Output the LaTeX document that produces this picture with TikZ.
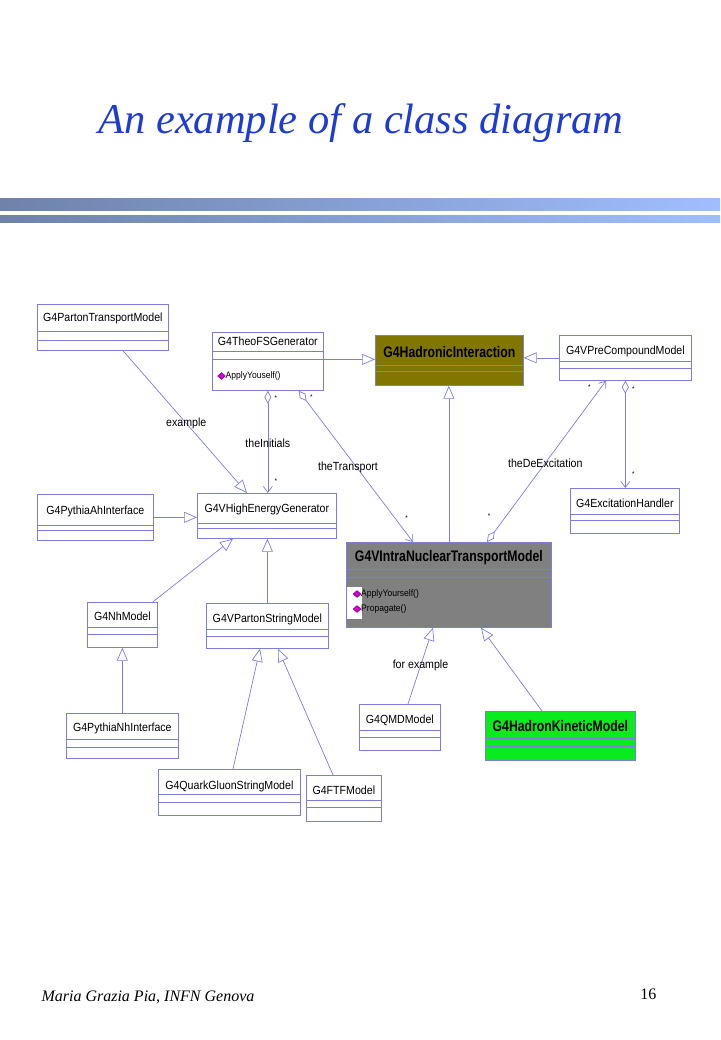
\documentclass[tikz,border=0pt]{standalone}
\usepackage{fontspec}
\setmainfont{Liberation Serif}
\newfontfamily\classfont[FakeStretch=0.9]{Liberation Sans}
\newfontfamily\boldclassfont[FakeStretch=0.8]{Liberation Sans}
\usepackage{tikz}
\usetikzlibrary{positioning,arrows.meta,shapes.geometric}

\definecolor{umlline}{RGB}{125,125,220}
\definecolor{umlolive}{RGB}{128,118,0}
\definecolor{umlgray}{RGB}{128,128,128}
\definecolor{umlgreen}{RGB}{10,235,30}
\definecolor{methodpink}{RGB}{210,0,210}
\definecolor{methodedge}{RGB}{110,0,110}
\definecolor{titleblue}{RGB}{30,60,210}
\definecolor{barleft}{RGB}{110,130,170}
\definecolor{barright}{RGB}{160,190,255}

\tikzset{seps/.code 2 args={\def\sepa{#1pt}\def\sepb{#2pt}}}

\begin{document}
\begin{tikzpicture}[x=1pt,y=-1pt]

\tikzstyle{umlclass} = [draw=umlline, line width=0.7pt, fill=white, anchor=north west, inner sep=0pt, font=\classfont\fontsize{11.8}{14}\selectfont, seps={26}{34},
  path picture={\draw[umlline, line width=0.7pt] ([yshift=-\sepa]path picture bounding box.north west) -- ([yshift=-\sepa]path picture bounding box.north east)
    ([yshift=-\sepb]path picture bounding box.north west) -- ([yshift=-\sepb]path picture bounding box.north east);}]
\tikzstyle{boldclass} = [umlclass, font=\boldclassfont\bfseries\fontsize{15.3}{17}\selectfont]
\tikzstyle{inherit} = [draw=umlline, line width=0.7pt, -{Triangle[open, length=13pt, width=11pt]}]
\tikzstyle{assoc} = [draw=umlline, line width=0.7pt, {Diamond[open, length=13pt, width=7pt]}-{Straight Barb[length=6pt, width=9pt]}]
\tikzstyle{lbl} = [font=\classfont\fontsize{11.8}{14}\selectfont, inner sep=0pt]
\tikzstyle{mult} = [font=\classfont\fontsize{7}{8}\selectfont, inner sep=0pt]
\tikzstyle{method} = [font=\classfont\fontsize{9.5}{11}\selectfont, inner sep=0pt, anchor=west]
\tikzstyle{methodicon} = [diamond, fill=methodpink, draw=methodedge, line width=0.4pt, inner sep=0pt, minimum width=8pt, minimum height=7pt]

\useasboundingbox (0,0) rectangle (720,1040);

% title and bars
\node[font=\itshape\fontsize{42.5}{48}\selectfont, text=titleblue, anchor=base] (title) at (361,134) {An example of a class diagram};
\shade[left color=barleft, right color=barright] (0,199) rectangle (720,211);
\shade[left color=barleft, right color=barright] (0,216) rectangle (720,223);

% classes, top row
\node[umlclass, minimum width=131pt, text height=17.5pt, text depth=28.5pt, seps={26.5}{36}] (ptm) at (37,304) {G4PartonTransportModel};
\node[umlclass, minimum width=111pt, text height=13.5pt, text depth=44.5pt, seps={19}{27}] (theo) at (212,332) {G4TheoFSGenerator};
\node[boldclass, fill=umlolive, minimum width=148pt, text height=22pt, text depth=28pt, seps={30}{36}] (hadr) at (375,335) {G4HadronicInteraction};
\node[umlclass, minimum width=132pt, text height=19.5pt, text depth=25.5pt, seps={26}{33}] (prec) at (559,335) {G4VPreCompoundModel};

% middle row
\node[umlclass, minimum width=116pt, text height=20pt, text depth=26pt, seps={31}{36}] (pyah) at (37,494) {G4PythiaAhInterface};
\node[umlclass, minimum width=139pt, text height=19pt, text depth=26pt, seps={30}{35}] (heg) at (197,493) {G4VHighEnergyGenerator};
\node[umlclass, minimum width=109pt, text height=19pt, text depth=26pt, seps={26}{32}] (exch) at (570,488) {G4ExcitationHandler};
\node[boldclass, fill=umlgray, minimum width=205pt, text height=19pt, text depth=66pt, seps={27}{35}] (intra) at (346,542) {G4VIntraNuclearTransportModel};

% lower rows
\node[umlclass, minimum width=70pt, text height=18pt, text depth=27pt, seps={25}{32}] (nhm) at (87,602) {G4NhModel};
\node[umlclass, minimum width=122pt, text height=19.5pt, text depth=25.5pt, seps={25.5}{33}] (psm) at (206,603) {G4VPartonStringModel};
\node[umlclass, minimum width=112pt, text height=18.5pt, text depth=26.5pt, seps={26}{33.5}] (pynh) at (66,713) {G4PythiaNhInterface};
\node[umlclass, minimum width=81pt, text height=19pt, text depth=27pt, seps={26}{33}] (qmd) at (359,704) {G4QMDModel};
\node[boldclass, fill=umlgreen, minimum width=150pt, text height=20pt, text depth=29pt, seps={27}{35}] (hkin) at (485,711) {G4HadronKineticModel};
\node[umlclass, minimum width=142pt, text height=20pt, text depth=26pt, seps={25}{32.5}] (qgsm) at (158,769) {G4QuarkGluonStringModel};
\node[umlclass, minimum width=75pt, text height=19pt, text depth=27pt, seps={25}{32}] (ftf) at (306,775) {G4FTFModel};

% methods
\node[methodicon] (theoicon) at ([xshift=9.5pt, yshift=-44pt]theo.north west) {};
\node[method] (theoapply) at ([xshift=13.5pt, yshift=-44pt]theo.north west) {ApplyYouself()};
\fill[white] ([xshift=0.5pt, yshift=-45pt]intra.north west) rectangle ([xshift=16pt, yshift=-77pt]intra.north west);
\node[methodicon] (intraicona) at ([xshift=11pt, yshift=-52pt]intra.north west) {};
\node[methodicon] (intraiconb) at ([xshift=11pt, yshift=-67pt]intra.north west) {};
\node[method] (intraapply) at ([xshift=15pt, yshift=-52pt]intra.north west) {ApplyYourself()};
\node[method] (intraprop) at ([xshift=15pt, yshift=-67pt]intra.north west) {Propagate()};

% generalisations
\draw[inherit] ([xshift=86pt]ptm.south west) -- node[lbl, pos=0.51] (exlbl) {example} ([xshift=50pt]heg.north west);
\draw[inherit] (pyah.east) -- (pyah.east -| heg.west);
\draw[inherit] ([yshift=2pt]theo.east) -- ([yshift=2pt]theo.east -| hadr.west);
\draw[inherit] (prec.west) -- (prec.west -| hadr.east);
\draw[inherit] (intra.north) -- (intra.north |- hadr.south);
\draw[inherit] ([xshift=-5pt]nhm.north east) -- ([xshift=36pt]heg.south west);
\draw[inherit] (psm.north) -- (psm.north |- heg.south);
\draw[inherit] (pynh.north) -- (pynh.north |- nhm.south);
\draw[inherit] ([xshift=75pt]qgsm.north west) -- ([xshift=54pt]psm.south west);
\draw[inherit] ([xshift=27pt]ftf.north west) -- ([xshift=72pt]psm.south west);
\draw[inherit] ([xshift=49pt]qmd.north west) -- node[lbl, pos=0.5] (forlbl) {for example} ([xshift=87pt]intra.south west);
\draw[inherit] ([xshift=57pt]hkin.north west) -- ([xshift=135pt]intra.south west);

% associations
\draw[assoc] (theo.south) -- node[lbl, pos=0.51] (inilbl) {theInitials}
  node[mult, pos=0.07, xshift=8pt] (inia) {*} node[mult, pos=0.88, xshift=8pt] (inib) {*} (theo.south |- heg.north);
\draw[assoc] ([xshift=-25pt]theo.south east) -- node[lbl, pos=0.51, xshift=-9pt] (trlbl) {theTransport}
  node[mult, pos=0.04, xshift=8pt] (tra) {*} node[mult, pos=0.84, xshift=12pt] (trb) {*} ([xshift=67pt]intra.north west);
\draw[assoc] ([xshift=141pt]intra.north west) -- node[lbl, pos=0.49] (delbl) {theDeExcitation}
  node[mult, pos=0.16, xshift=-17pt] (dea) {*} node[mult, pos=0.96, xshift=-12pt] (deb) {*} ([xshift=47pt]prec.south west);
\draw[assoc] (prec.south) -- node[mult, pos=0.08, xshift=8pt] (exa) {*}
  node[mult, pos=0.87, xshift=8pt] (exb) {*} (prec.south |- exch.north);

% footer
\node[font=\itshape\fontsize{16}{18}\selectfont, anchor=base west] (author) at (38,1001) {Maria Grazia Pia, INFN Genova};
\node[font=\fontsize{16}{18}\selectfont, anchor=base east] (page) at (660,999) {16};

\end{tikzpicture}
\end{document}
